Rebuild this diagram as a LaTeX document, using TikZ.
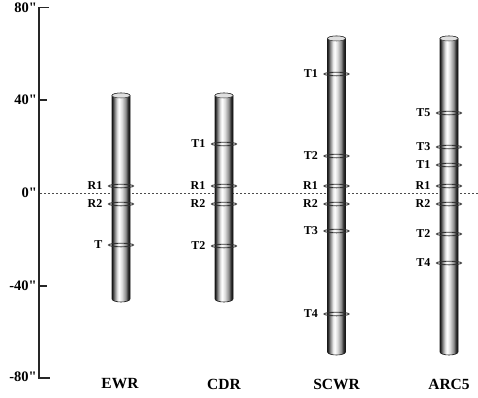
\documentclass[tikz,border=0pt]{standalone}
\usepackage{fontspec}
\setmainfont{Liberation Serif}
\pgfdeclarehorizontalshading{rodshade}{100bp}{color(0bp)=(black!90); color(25bp)=(black!90); color(28bp)=(black!75); color(32bp)=(black!50); color(40bp)=(black!10); color(45bp)=(white); color(53bp)=(black!15); color(63bp)=(black!45); color(69bp)=(black!80); color(75bp)=(black!95); color(100bp)=(black!95)}
\tikzset{
  axislab/.style={font=\fontsize{14.5}{16}\selectfont\bfseries, anchor=east, inner sep=0pt},
  ringlab/.style={font=\fontsize{12}{14}\selectfont\bfseries, anchor=east, inner sep=0pt},
  rodlab/.style={font=\fontsize{15.5}{18}\selectfont\bfseries, inner sep=0pt},
  axisline/.style={line width=1.5pt, black!85},
  zeroline/.style={black!70, line width=0.9pt, dash pattern=on 2pt off 2pt},
  ringline/.style={black!80, line width=0.9pt},
  rodbody/.style={shading=rodshade, draw=black!90, line width=0.6pt},
  rodcap/.style={fill=black!12, draw=black!80, line width=0.5pt}
}
\newcommand\drawrod[3]{%
  \path[rodbody] (#1-9,#2+2.5) -- (#1-9,#3-3)
    arc[start angle=180,end angle=360,x radius=9pt,y radius=3pt]
    -- (#1+9,#2+2.5)
    arc[start angle=0,end angle=180,x radius=9pt,y radius=2.5pt] -- cycle;
  \path[rodcap] (#1,#2+2.5) ellipse[x radius=9pt,y radius=2.5pt];
}
\newcommand\drawring[3]{% cx, y, label
  \draw[ringline] (#1,#2) ellipse[x radius=12.5pt,y radius=1.8pt];
  \node[ringlab] (lab-#1-#3) at (#1-18.5,#2) {#3};
}
\begin{document}
\begin{tikzpicture}[x=1pt,y=-1pt]
\useasboundingbox (0,0) rectangle (478,397);
% axis
\coordinate (atop) at (39,7.5);
\coordinate (abot) at (39,378);
\draw[axisline] (49,7.5) -- (atop) -- (abot) -- (50,378);
\coordinate (t40) at (39,100);
\coordinate (tm40) at (39,286);
\draw[axisline] (t40) -- (47,100);
\draw[axisline] (tm40) -- (47,286);
\node[axislab] (l80) at (37,7.5) {80\textquotedbl};
\node[axislab] (l40) at (37,100) {40\textquotedbl};
\node[axislab] (l0) at (37,193) {0\textquotedbl};
\node[axislab] (lm40) at (37,286) {-40\textquotedbl};
\node[axislab] (lm80) at (37,377) {-80\textquotedbl};
% zero line
\coordinate (z0) at (40,193);
\coordinate (z1) at (478,193);
\draw[zeroline] (z0) -- (z1);
% rods
\drawrod{121}{93}{302}
\drawrod{224}{93}{302}
\drawrod{336.5}{36}{355}
\drawrod{449}{36}{355}
% rings
\foreach \yy/\tt in {186/R1,204/R2,245/T}{\drawring{121}{\yy}{\tt}}
\foreach \yy/\tt in {144/T1,186/R1,204/R2,246/T2}{\drawring{224}{\yy}{\tt}}
\foreach \yy/\tt in {74/T1,156/T2,186/R1,204/R2,231/T3,314/T4}{\drawring{336.5}{\yy}{\tt}}
\foreach \yy/\tt in {113/T5,147/T3,165/T1,186/R1,204/R2,234/T2,263/T4}{\drawring{449}{\yy}{\tt}}
% rod names
\node[rodlab] (ewr) at (120,384) {EWR};
\node[rodlab] (cdr) at (224,384) {CDR};
\node[rodlab] (scwr) at (336.5,384) {SCWR};
\node[rodlab] (arc) at (449,384) {ARC5};
\end{tikzpicture}
\end{document}
